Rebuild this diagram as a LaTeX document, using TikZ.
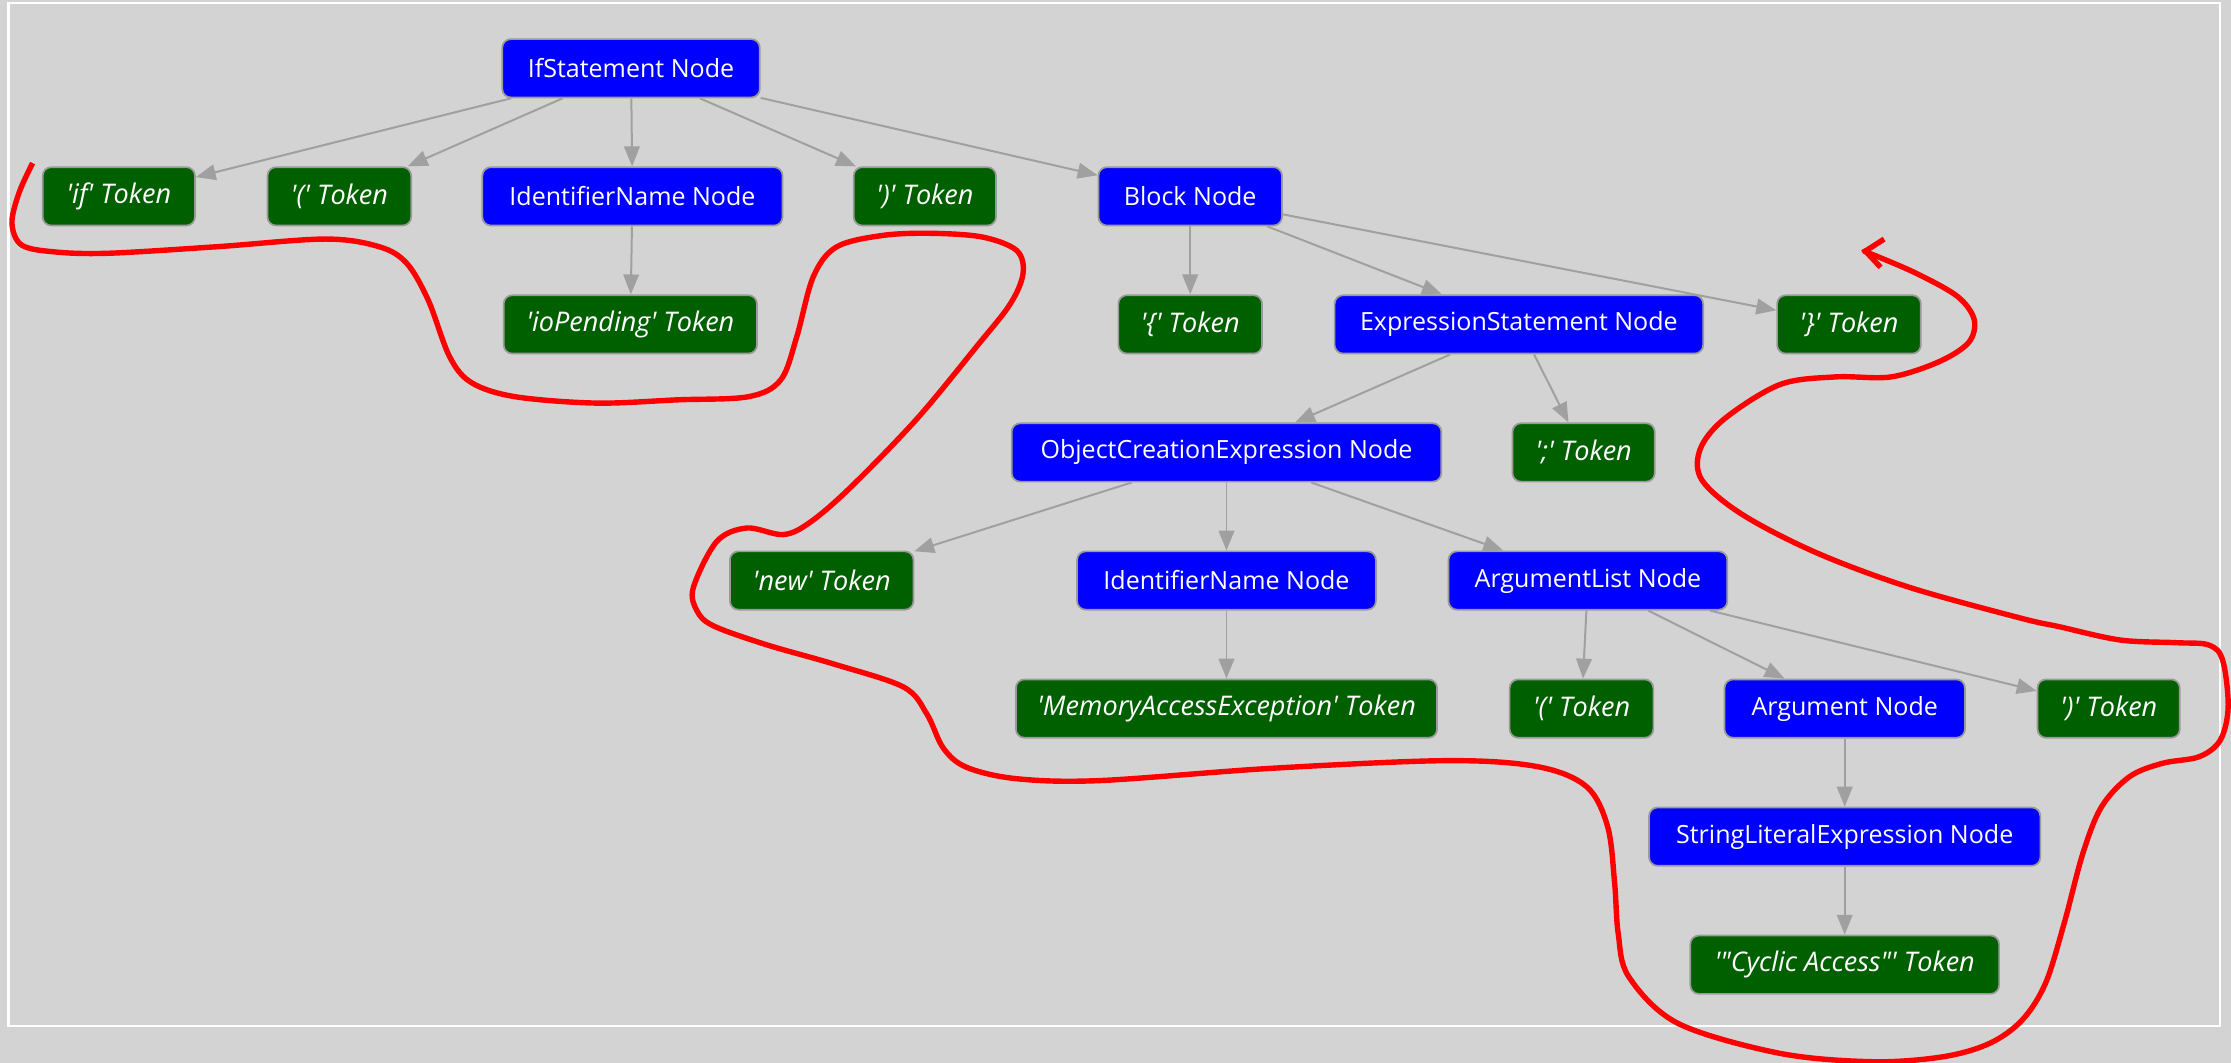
\documentclass[tikz,border=0pt]{standalone}
\usepackage{fontspec}
\newfontfamily\lblfont{Open Sans}
\usetikzlibrary{arrows.meta}
\definecolor{bgcol}{HTML}{D3D3D3}
\definecolor{nodeblue}{HTML}{0000FF}
\definecolor{tokgreen}{HTML}{006000}
\definecolor{edgegray}{HTML}{A0A0A0}
\definecolor{bordergray}{HTML}{9A9A9A}
\definecolor{annred}{HTML}{FF0000}
\tikzset{
  basebox/.style={rounded corners=6pt, draw=bordergray, line width=1.2pt, text=white,
    minimum height=41pt, inner sep=0pt},
  synnode/.style={basebox, fill=nodeblue, font=\lblfont\fontsize{17.6}{21}\selectfont},
  toknode/.style={basebox, fill=tokgreen, font=\lblfont\itshape\fontsize{19}{22}\selectfont},
  edgeline/.style={draw=edgegray, line width=1.4pt, -{Triangle[length=14pt,width=11pt]}},
  annot/.style={draw=annred, line width=3.8pt, line join=round,
    -{Straight Barb[length=12pt,width=20pt,line width=3.8pt]}},
  framebox/.style={draw=white, line width=1.5pt}
}
\begin{document}
\begin{tikzpicture}[x=1pt,y=-1pt]
\useasboundingbox[fill=bgcol] (0,0) rectangle (1568,747);
\draw[framebox] (6,2) rectangle (1560,721);

% row 1
\node[synnode, minimum width=181pt] (ifst) at (443.5,48) {IfStatement Node};
% row 2
\node[toknode, minimum width=107pt] (iftok) at (83.5,138) {'if' Token};
\node[toknode, minimum width=101pt] (lpa) at (238.5,138) {'(' Token};
\node[synnode, minimum width=211pt] (idna) at (444.5,138) {IdentifierName Node};
\node[toknode, minimum width=100pt] (rpa) at (650,138) {')' Token};
\node[synnode, minimum width=129pt] (block) at (836.5,138) {Block Node};
% row 3
\node[toknode, minimum width=178pt] (iopend) at (443,228) {'ioPending' Token};
\node[toknode, minimum width=101pt] (lbr) at (836.5,228) {'\{' Token};
\node[synnode, minimum width=259pt] (exprst) at (1067.5,228) {ExpressionStatement Node};
\node[toknode, minimum width=101pt] (rbr) at (1299.5,228) {'\}' Token};
% row 4
\node[synnode, minimum width=302pt] (objcr) at (862,318) {ObjectCreationExpression Node};
\node[toknode, minimum width=100pt] (semi) at (1113,318) {';' Token};
% row 5
\node[toknode, minimum width=129pt] (newtok) at (577.5,408) {'new' Token};
\node[synnode, minimum width=210pt] (idnb) at (862,408) {IdentifierName Node};
\node[synnode, minimum width=196pt] (arglist) at (1116,408) {ArgumentList Node};
% row 6
\node[toknode, minimum width=296pt] (memacc) at (862,498) {'MemoryAccessException' Token};
\node[toknode, minimum width=101pt] (lpb) at (1111.5,498) {'(' Token};
\node[synnode, minimum width=169pt] (argn) at (1296.5,498) {Argument Node};
\node[toknode, minimum width=100pt] (rpb) at (1482,498) {')' Token};
% row 7
\node[synnode, minimum width=275pt] (strlit) at (1296.5,588) {StringLiteralExpression Node};
% row 8
\node[toknode, minimum width=217pt] (cyclic) at (1296.5,678) {'"Cyclic Access"' Token};

% edges
\draw[edgeline] (ifst) -- (iftok);
\draw[edgeline] (ifst) -- (lpa);
\draw[edgeline] (ifst) -- (idna);
\draw[edgeline] (ifst) -- (rpa);
\draw[edgeline] (ifst) -- (block);
\draw[edgeline] (idna) -- (iopend);
\draw[edgeline] (block) -- (lbr);
\draw[edgeline] (block) -- (exprst);
\draw[edgeline] (block) -- (rbr);
\draw[edgeline] (exprst) -- (objcr);
\draw[edgeline] (exprst) -- (semi);
\draw[edgeline] (objcr) -- (newtok);
\draw[edgeline] (objcr) -- (idnb);
\draw[edgeline] (objcr) -- (arglist);
\draw[edgeline] (idnb) -- (memacc);
\draw[edgeline] (arglist) -- (lpb);
\draw[edgeline] (arglist) -- (argn);
\draw[edgeline] (arglist) -- (rpb);
\draw[edgeline] (argn) -- (strlit);
\draw[edgeline] (strlit) -- (cyclic);

% hand-drawn red annotation
\draw[annot] plot[smooth, tension=0.55] coordinates {
(22.9,114.6) (13.3,135.7) (8.4,156.9) (15.2,172.2) (38,177) (76,178)
(152.4,173.4) (228.6,168) (266.5,173.4) (285.8,185) (301,211) (316,250.7)
(331.5,269) (362,278.8) (419,283.3) (476.4,281) (526,278.8) (548.7,267)
(560,236.6) (571.6,194.5) (588,173.5) (620.8,165.4) (656,164) (691,166.7)
(714.6,176.1) (719,192.3) (709.9,213.8) (686.5,243.4) (644.3,294.5)
(597.4,342.9) (569.3,367.1) (550.5,375.7) (524.8,371.1) (503.7,380.6)
(487.3,412.9) (489.7,429) (501.3,439.8) (538.9,453.2) (585.7,466.6)
(634.9,482.8) (651.3,501.6) (663,525.8) (679.4,539.3) (714.6,547.3)
(773.1,548.6) (893.2,540) (1016.5,534.6) (1080.6,538.8) (1115.1,552.9)
(1129.9,581) (1134.8,620.8) (1137.3,656) (1144.7,686.4) (1179.2,719.2)
(1250.9,740.3) (1316.4,746.2) (1365.6,742.7) (1398.3,733.3) (1421.2,716.9)
(1437.6,691.1) (1450.7,649) (1463.9,599.7) (1477,567) (1496.6,545.9)
(1519.6,536.5) (1545.7,531.8) (1560.5,520.1) (1566,496.7) (1562.1,463.9)
(1552.3,453.3) (1529.4,451.7) (1490,449.8) (1447.5,440.5) (1420.1,434.4)
(1342,412.8) (1276.9,388.6) (1224.8,361.8) (1196.2,337.5) (1194.8,316)
(1211.8,294.5) (1250.9,270.3) (1289.9,264.9) (1329,264.9) (1362.8,254.2)
(1383.6,240.7) (1387.5,224.6) (1375.8,208.4) (1347.2,192.3) (1315.9,178.8)
(1308.1,176.1)};
\end{tikzpicture}
\end{document}
